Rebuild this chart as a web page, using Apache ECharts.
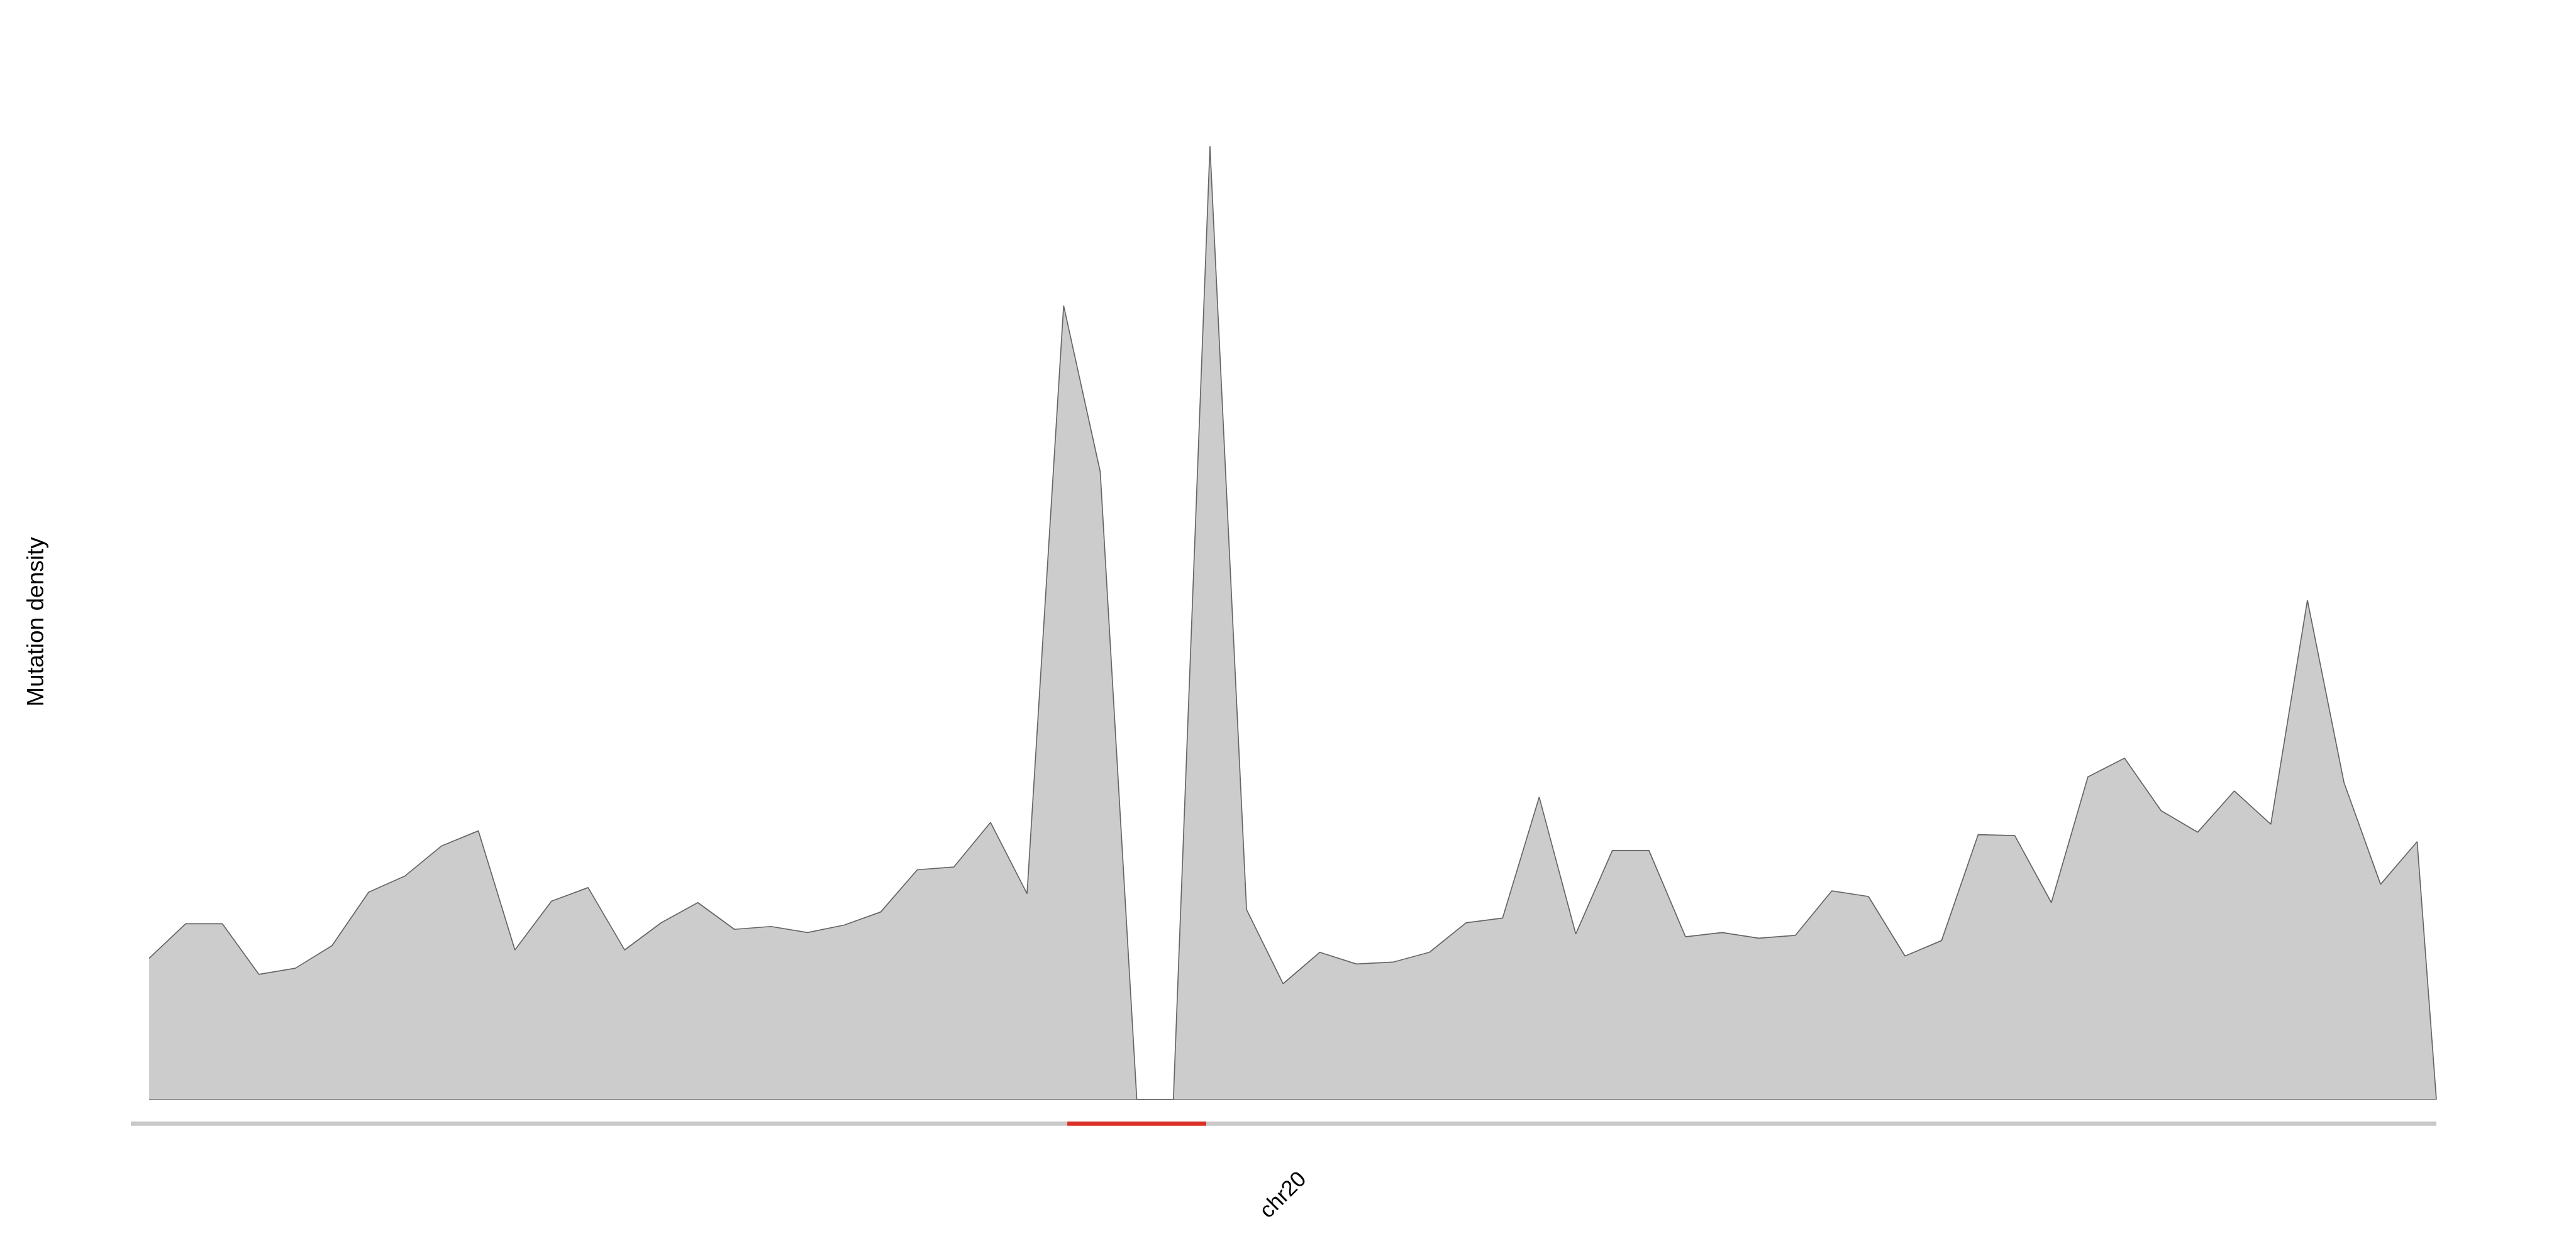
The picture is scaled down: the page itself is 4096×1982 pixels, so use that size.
<!DOCTYPE html>
<html>
<head>
<meta charset="utf-8">
<script src="https://cdn.jsdelivr.net/npm/echarts@6/dist/echarts.min.js"></script>
<style>
html,body{margin:0;padding:0;background:#ffffff;}
#chart{width:4096px;height:1982px;}
</style>
</head>
<body>
<div id="chart"></div>
<script>
// ---- data ----
const chromosome = 'chr20';
const chromLength = 63.02552; // Mb (hg19)
const centromereStart = 25.6;  // Mb
const centromereEnd = 29.4;    // Mb

// bin centres (Mb) and mutation density (relative units)
const binPositions = [
  0.5, 1.5, 2.5, 3.5, 4.5, 5.5, 6.5, 7.5, 8.5, 9.5,
  10.5, 11.5, 12.5, 13.5, 14.5, 15.5, 16.5, 17.5, 18.5, 19.5,
  20.5, 21.5, 22.5, 23.5, 24.5, 25.5, 26.5, 27.5, 28.5, 29.5,
  30.5, 31.5, 32.5, 33.5, 34.5, 35.5, 36.5, 37.5, 38.5, 39.5,
  40.5, 41.5, 42.5, 43.5, 44.5, 45.5, 46.5, 47.5, 48.5, 49.5,
  50.5, 51.5, 52.5, 53.5, 54.5, 55.5, 56.5, 57.5, 58.5, 59.5,
  60.5, 61.5, 62.5, 63.02552
];
const densityValues = [
  3.01, 3.75, 3.75, 2.67, 2.80, 3.28, 4.42, 4.77, 5.41, 5.73,
  3.19, 4.23, 4.52, 3.19, 3.77, 4.20, 3.63, 3.69, 3.56, 3.72,
  4.00, 4.90, 4.96, 5.91, 4.39, 16.93, 13.39, 0.00, 0.00, 20.33,
  4.05, 2.47, 3.14, 2.89, 2.93, 3.14, 3.77, 3.87, 6.45, 3.53,
  5.31, 5.31, 3.47, 3.56, 3.44, 3.50, 4.45, 4.33, 3.06, 3.39,
  5.65, 5.63, 4.20, 6.88, 7.28, 6.16, 5.70, 6.58, 5.87, 10.65,
  6.76, 4.59, 5.50, 0.00
];
const densityMax = 22;

// ideogram bands: [start, end, type]
const ideogramBands = [
  [0, centromereStart, 'arm'],
  [centromereStart, centromereEnd, 'centromere'],
  [centromereEnd, chromLength, 'arm']
];

// ---- build ----
const densityData = binPositions.map((x, i) => [x, densityValues[i]]);
const baselineData = [[binPositions[0], 0], [binPositions[binPositions.length - 1], 0]];
const bandColors = { arm: '#C8C8C8', centromere: '#DB3027' };
const FONT = '"Liberation Sans", Arial, Helvetica, sans-serif';

const chart = echarts.init(document.getElementById('chart'), null, { renderer: 'canvas' });

const hiddenAxis = {
  axisLine: { show: false }, axisTick: { show: false },
  axisLabel: { show: false }, splitLine: { show: false }
};

chart.setOption({
  backgroundColor: '#ffffff',
  animation: false,
  grid: [
    { left: 208, right: 222, top: 108, bottom: 233 },
    { left: 208, right: 222, top: 1784, bottom: 191.3 }
  ],
  xAxis: [
    Object.assign({ type: 'value', gridIndex: 0, min: 0, max: chromLength }, hiddenAxis),
    {
      type: 'value', gridIndex: 1, min: 0, max: chromLength,
      axisLine: { show: false }, axisTick: { show: false }, splitLine: { show: false },
      axisLabel: {
        show: true,
        customValues: [chromLength / 2],
        formatter: function () { return chromosome; },
        rotate: 45,
        align: 'center',
        verticalAlign: 'middle',
        margin: 111,
        fontSize: 35,
        fontFamily: FONT,
        color: '#000000'
      }
    }
  ],
  yAxis: [
    Object.assign({ type: 'value', gridIndex: 0, min: 0, max: densityMax }, hiddenAxis),
    Object.assign({ type: 'value', gridIndex: 1, min: 0, max: 1 }, hiddenAxis)
  ],
  graphic: [{
    type: 'text',
    x: 59, y: 989,
    rotation: Math.PI / 2,
    style: {
      text: 'Mutation density',
      font: '37px ' + FONT,
      fill: '#000000',
      align: 'center',
      verticalAlign: 'middle'
    }
  }],
  series: [
    {
      type: 'line',
      xAxisIndex: 0, yAxisIndex: 0,
      data: densityData,
      symbol: 'none',
      smooth: false,
      lineStyle: { color: '#666666', width: 1.7 },
      areaStyle: { color: '#CCCCCC', opacity: 1 },
      z: 2
    },
    {
      type: 'line',
      xAxisIndex: 0, yAxisIndex: 0,
      data: baselineData,
      symbol: 'none',
      lineStyle: { color: '#666666', width: 1.7 },
      z: 3
    },
    {
      type: 'custom',
      xAxisIndex: 1, yAxisIndex: 1,
      data: ideogramBands,
      renderItem: function (params, api) {
        const s = api.coord([api.value(0), 0]);
        const e = api.coord([api.value(1), 0]);
        const cs = params.coordSys;
        return {
          type: 'rect',
          shape: { x: s[0], y: cs.y, width: e[0] - s[0], height: cs.height },
          style: { fill: bandColors[ideogramBands[params.dataIndex][2]] }
        };
      },
      z: 2
    }
  ]
});
</script>
</body>
</html>
